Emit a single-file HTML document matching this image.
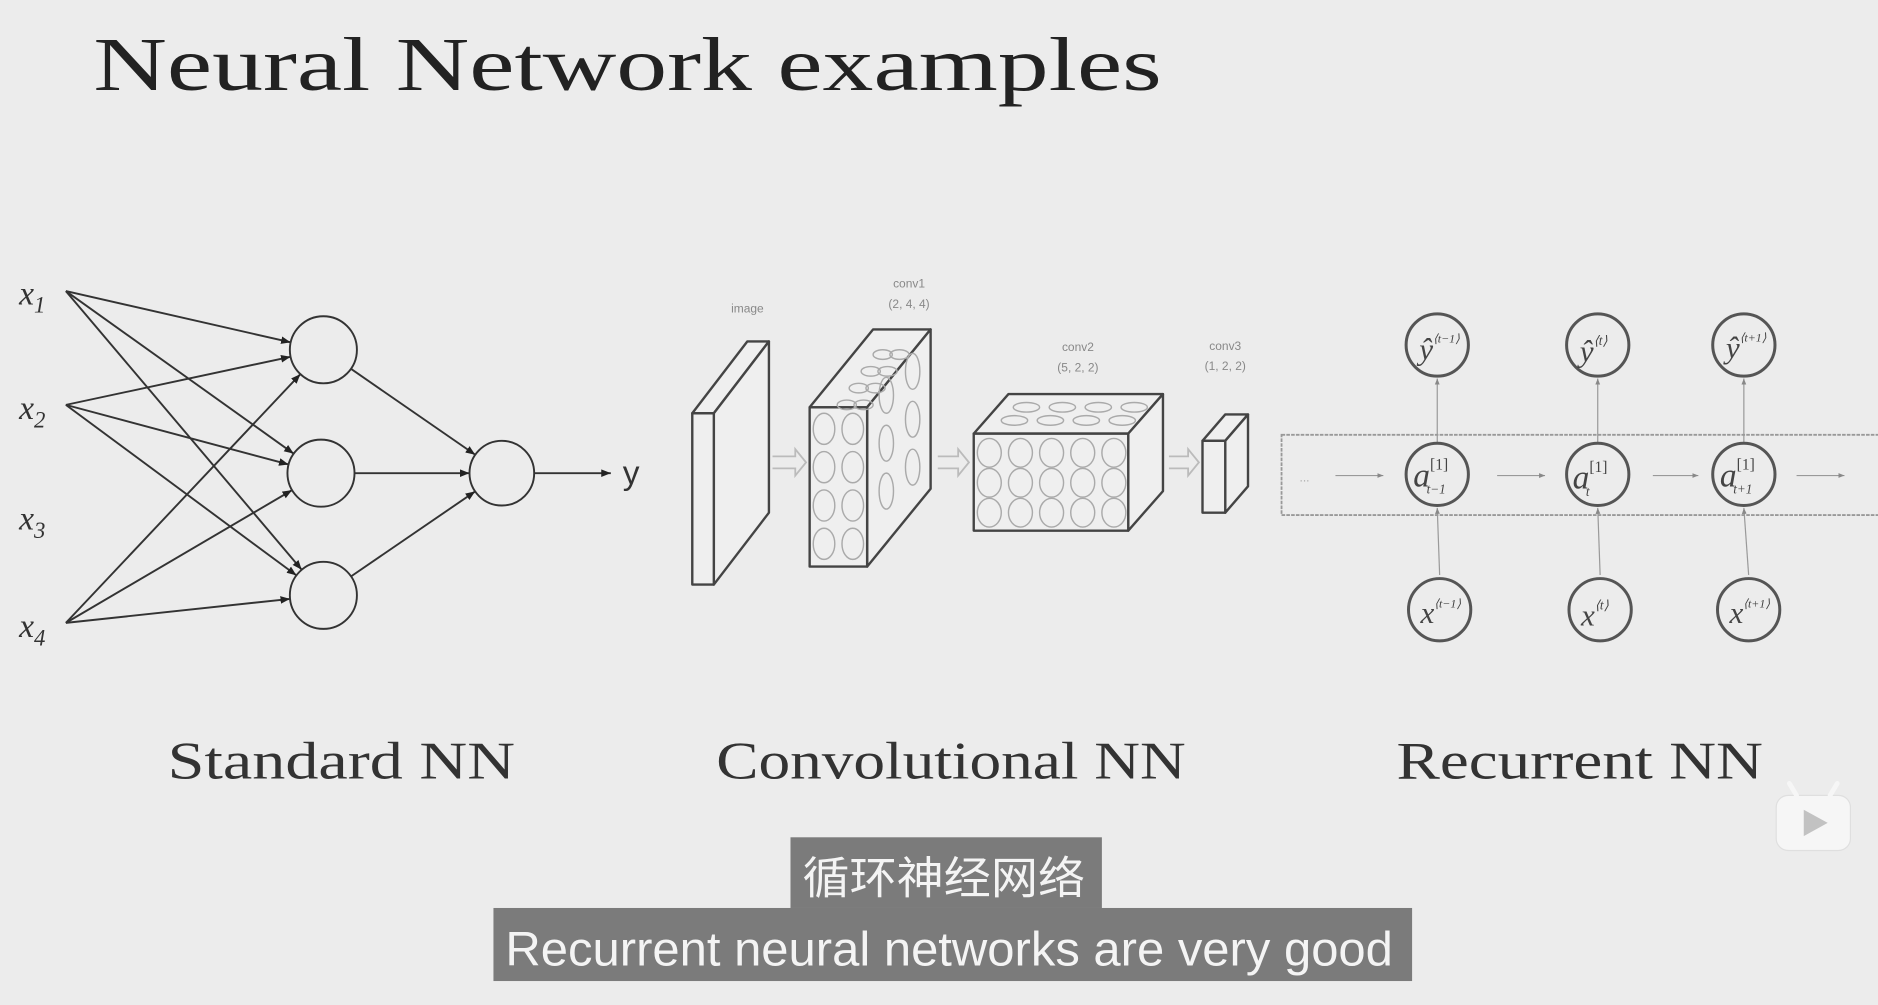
<!DOCTYPE html>
<html><head><meta charset="utf-8"><style>
html,body{margin:0;padding:0;background:#ececec;}
svg{display:block;}
</style></head><body>
<svg id="s" width="1878" height="1005" viewBox="0 0 1568 839" preserveAspectRatio="none" xmlns="http://www.w3.org/2000/svg">
<defs>
<marker id="ah" viewBox="0 0 10 10" refX="10" refY="5" markerWidth="8" markerHeight="8" orient="auto" markerUnits="userSpaceOnUse"><path d="M0,1 L10,5 L0,9 z" fill="#222"/></marker>
<marker id="sa" viewBox="0 0 10 10" refX="10" refY="5" markerWidth="5" markerHeight="5" orient="auto" markerUnits="userSpaceOnUse"><path d="M0,1 L10,5 L0,9 z" fill="#888"/></marker>
</defs>
<rect width="1568" height="839" fill="#ececec"/>
<text x="78" y="75" font-family="Liberation Serif, serif" font-size="64" fill="#222" textLength="892" lengthAdjust="spacingAndGlyphs">Neural Network examples</text>

<!-- Standard NN -->
<g font-family="Liberation Serif, serif" font-style="italic" fill="#333">
<text x="16" y="254" font-size="28">x<tspan font-size="19" dy="7">1</tspan></text>
<text x="16" y="350" font-size="28">x<tspan font-size="19" dy="7">2</tspan></text>
<text x="16" y="442" font-size="28">x<tspan font-size="19" dy="7">3</tspan></text>
<text x="16" y="532" font-size="28">x<tspan font-size="19" dy="7">4</tspan></text>
</g>
<g id="nn" stroke="#333" stroke-width="1.6" fill="none"></g>
<text x="520" y="404" font-family="Liberation Sans, sans-serif" font-size="28" fill="#333">y</text>

<!-- CNN -->
<g stroke="#444" stroke-width="2" fill="#efefef" stroke-linejoin="round">
<path d="M578,345 L624,285 L642,285 L596,345 Z"/>
<path d="M596,345 L642,285 L642,428 L596,488 Z"/>
<rect x="578" y="345" width="18" height="143"/>
<path d="M676,340 L729,275 L777,275 L724,340 Z"/>
<path d="M724,340 L777,275 L777,408 L724,473 Z"/>
<rect x="676" y="340" width="48" height="133"/>
<path d="M813,362 L842,329 L971,329 L942,362 Z"/>
<path d="M942,362 L971,329 L971,410 L942,443 Z"/>
<rect x="813" y="362" width="129" height="81"/>
<path d="M1004,368 L1023,346 L1042,346 L1023,368 Z"/>
<path d="M1023,368 L1042,346 L1042,406 L1023,428 Z"/>
<rect x="1004" y="368" width="19" height="60"/>
</g>
<g stroke="#aaa" stroke-width="1.2" fill="none" id="cells"></g>
<g stroke="#bbb" stroke-width="1.5" fill="none">
<path d="M645,381 L664,381 L664,375 L673,386 L664,397 L664,391 L645,391"/>
<path d="M783,381 L800,381 L800,375 L809,386 L800,397 L800,391 L783,391"/>
<path d="M976,381 L992,381 L992,375 L1001,386 L992,397 L992,391 L976,391"/>
</g>
<g font-family="Liberation Sans, sans-serif" font-size="10" fill="#888" text-anchor="middle">
<text x="624" y="261">image</text>
<text x="759" y="240">conv1</text><text x="759" y="257">(2, 4, 4)</text>
<text x="900" y="293">conv2</text><text x="900" y="310">(5, 2, 2)</text>
<text x="1023" y="292">conv3</text><text x="1023" y="309">(1, 2, 2)</text>
</g>

<!-- RNN -->
<rect x="1070" y="363" width="520" height="67" fill="none" stroke="#999" stroke-width="1.5" stroke-dasharray="3,1"/>
<g id="rnn" fill="none"></g>
<g stroke="#999" stroke-width="1" fill="none" marker-end="url(#sa)">
<line x1="1115" y1="397" x2="1155" y2="397"/>
<line x1="1250" y1="397" x2="1290" y2="397"/>
<line x1="1380" y1="397" x2="1418" y2="397"/>
<line x1="1500" y1="397" x2="1540" y2="397"/>
</g>
<text x="1085" y="402" font-size="10" fill="#aaa" font-family="Liberation Sans, sans-serif">...</text>
<g font-family="Liberation Serif, serif" font-style="italic" fill="#444">
<text x="1185" y="300" font-size="26">ŷ<tspan font-size="10" dy="-14">⟨t−1⟩</tspan></text>
<text x="1319" y="302" font-size="26">ŷ<tspan font-size="11" dy="-14">⟨t⟩</tspan></text>
<text x="1441" y="299" font-size="26">ŷ<tspan font-size="10" dy="-14">⟨t+1⟩</tspan></text>
<text x="1180" y="406" font-size="28">a<tspan font-size="13" dy="-14" font-style="normal">[1]</tspan><tspan font-size="11" dx="-18" dy="20">t−1</tspan></text>
<text x="1313" y="408" font-size="28">a<tspan font-size="13" dy="-14" font-style="normal">[1]</tspan><tspan font-size="11" dx="-18" dy="20">t</tspan></text>
<text x="1436" y="406" font-size="28">a<tspan font-size="13" dy="-14" font-style="normal">[1]</tspan><tspan font-size="11" dx="-18" dy="20">t+1</tspan></text>
<text x="1186" y="520" font-size="26">x<tspan font-size="10" dy="-13">⟨t−1⟩</tspan></text>
<text x="1320" y="522" font-size="26">x<tspan font-size="11" dy="-13">⟨t⟩</tspan></text>
<text x="1444" y="520" font-size="26">x<tspan font-size="10" dy="-13">⟨t+1⟩</tspan></text>
</g>

<g font-family="Liberation Serif, serif" font-size="44" fill="#333">
<text x="140" y="650" textLength="290" lengthAdjust="spacingAndGlyphs">Standard NN</text>
<text x="598" y="650" textLength="392" lengthAdjust="spacingAndGlyphs">Convolutional NN</text>
<text x="1166" y="650" textLength="306" lengthAdjust="spacingAndGlyphs">Recurrent NN</text>
</g>

<g opacity="0.85">
<rect x="1483" y="664" width="62" height="46" rx="10" fill="#f8f8f8" stroke="#ddd"/>
<line x1="1500" y1="664" x2="1494" y2="654" stroke="#f8f8f8" stroke-width="4" stroke-linecap="round"/>
<line x1="1528" y1="664" x2="1534" y2="654" stroke="#f8f8f8" stroke-width="4" stroke-linecap="round"/>
<path d="M1506,676 L1526,687 L1506,698 Z" fill="#bbb"/>
</g>

<rect x="660" y="699" width="260" height="59" fill="#7b7b7b"/>
<rect x="412" y="758" width="767" height="61" fill="#7b7b7b"/>
<text x="670" y="746" font-family="'Noto Sans CJK SC', sans-serif" font-size="37" fill="#f4f4f4" textLength="236" lengthAdjust="spacingAndGlyphs">循环神经网络</text>
<text x="422" y="806" font-family="Liberation Sans, 'Noto Sans CJK SC', sans-serif" font-size="40" fill="#f4f4f4" textLength="741" lengthAdjust="spacingAndGlyphs">Recurrent neural networks are very good</text>
</svg>
<script>
var NS="http://www.w3.org/2000/svg";
function el(p,t,a){var e=document.createElementNS(NS,t);for(var k in a)e.setAttribute(k,a[k]);p.appendChild(e);return e;}
var nn=document.getElementById("nn");
var src=[[55,243],[55,338],[55,520]];
var hid=[[270,292],[268,395],[270,497]];var r=28;
var out=[419,395];
src.forEach(function(s){hid.forEach(function(h){
 var dx=h[0]-s[0],dy=h[1]-s[1],d=Math.hypot(dx,dy);
 el(nn,"line",{x1:s[0],y1:s[1],x2:h[0]-dx/d*r,y2:h[1]-dy/d*r,"marker-end":"url(#ah)"});
});});
hid.forEach(function(h){
 el(nn,"circle",{cx:h[0],cy:h[1],r:r});
 var dx=out[0]-h[0],dy=out[1]-h[1],d=Math.hypot(dx,dy);
 el(nn,"line",{x1:h[0]+dx/d*r,y1:h[1]+dy/d*r,x2:out[0]-dx/d*27,y2:out[1]-dy/d*27,"marker-end":"url(#ah)"});
});
el(nn,"circle",{cx:out[0],cy:out[1],r:27});
el(nn,"line",{x1:446,y1:395,x2:510,y2:395,"marker-end":"url(#ah)"});
var c=document.getElementById("cells");
for(var i=0;i<2;i++)for(var j=0;j<4;j++)el(c,"ellipse",{cx:688+i*24,cy:358+j*32,rx:9,ry:13});
for(var i=0;i<5;i++)for(var j=0;j<3;j++)el(c,"ellipse",{cx:826+i*26,cy:378+j*25,rx:10,ry:12});
for(var i=0;i<4;i++)for(var j=0;j<2;j++)el(c,"ellipse",{cx:857+i*30-j*10,cy:340+j*11,rx:11,ry:4});
for(var i=0;i<2;i++)for(var j=0;j<4;j++)el(c,"ellipse",{cx:737+j*-10+i*14,cy:296+j*14,rx:8,ry:4});
for(var i=0;i<2;i++)for(var j=0;j<3;j++)el(c,"ellipse",{cx:740+i*22,cy:330+j*40-i*20,rx:6,ry:15});
var g=document.getElementById("rnn");
var xs=[[1200,1202],[1334,1336],[1456,1460]];
xs.forEach(function(x){
 el(g,"line",{x1:x[0],y1:369,x2:x[0],y2:316,stroke:"#999","stroke-width":1,"marker-end":"url(#sa)"});
 el(g,"line",{x1:x[1],y1:480,x2:x[0],y2:424,stroke:"#999","stroke-width":1,"marker-end":"url(#sa)"});
 el(g,"circle",{cx:x[0],cy:288,r:26,stroke:"#555","stroke-width":2.5});
 el(g,"circle",{cx:x[0],cy:396,r:26,stroke:"#555","stroke-width":2.5,fill:"#ececec"});
 el(g,"circle",{cx:x[1],cy:509,r:26,stroke:"#555","stroke-width":2.5});
});
</script>
</body></html>
